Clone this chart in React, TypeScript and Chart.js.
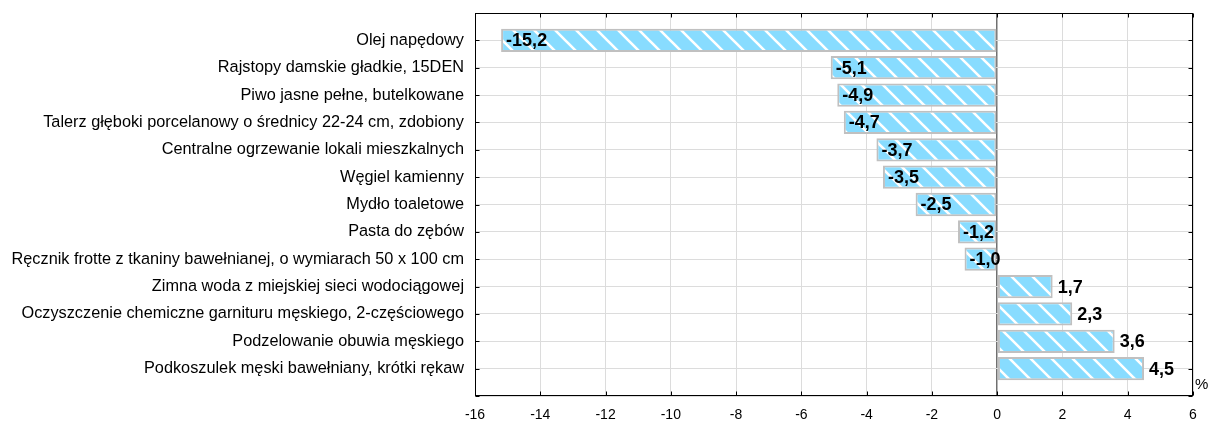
import { useEffect, useRef } from 'react';
import { Chart, registerables } from 'chart.js';

Chart.register(...registerables);

const categories = [
  'Olej napędowy',
  'Rajstopy damskie gładkie, 15DEN',
  'Piwo jasne pełne, butelkowane',
  'Talerz głęboki porcelanowy o średnicy 22-24 cm, zdobiony',
  'Centralne ogrzewanie lokali mieszkalnych',
  'Węgiel kamienny',
  'Mydło toaletowe',
  'Pasta do zębów',
  'Ręcznik frotte z tkaniny bawełnianej, o wymiarach 50 x 100 cm',
  'Zimna woda z miejskiej sieci wodociągowej',
  'Oczyszczenie chemiczne garnituru męskiego, 2-częściowego',
  'Podzelowanie obuwia męskiego',
  'Podkoszulek męski bawełniany, krótki rękaw',
];

const values = [-15.2, -5.1, -4.9, -4.7, -3.7, -3.5, -2.5, -1.2, -1.0, 1.7, 2.3, 3.6, 4.5];

const xMin = -16;
const xMax = 6;
const xStep = 2;
const unitLabel = '%';

const FONT = '"Liberation Sans", Arial, Helvetica, sans-serif';

function makePattern(): CanvasPattern | string {
  const s = 21;
  const c = document.createElement('canvas');
  c.width = s;
  c.height = s;
  const g = c.getContext('2d');
  if (!g) return '#88dcff';
  g.fillStyle = '#88dcff';
  g.fillRect(0, 0, s, s);
  g.strokeStyle = '#ffffff';
  g.lineWidth = 2.6;
  g.beginPath();
  for (const k of [-1, 0, 1]) {
    g.moveTo(k * s - 3, -3);
    g.lineTo(k * s + s + 3, s + 3);
  }
  g.stroke();
  const p = g.createPattern(c, 'repeat');
  return p || '#88dcff';
}

const fmt = (v: number) => v.toFixed(1).replace('.', ',');

export default function App() {
  const ref = useRef<HTMLCanvasElement | null>(null);

  useEffect(() => {
    document.body.style.margin = '0';
    const canvas = ref.current;
    if (!canvas) return;
    const pattern = makePattern();

    const labelPlugin = {
      id: 'valueLabels',
      afterDatasetsDraw(chart: any) {
        const { ctx, scales } = chart;
        const meta = chart.getDatasetMeta(0);
        ctx.save();
        ctx.font = `bold 18px ${FONT}`;
        ctx.fillStyle = '#000';
        ctx.textAlign = 'left';
        ctx.textBaseline = 'middle';
        meta.data.forEach((el: any, i: number) => {
          const v = values[i];
          const px = scales.x.getPixelForValue(v);
          ctx.fillText(fmt(v), px + 5, el.y + 1);
        });
        ctx.restore();
      },
    };

    const framePlugin = {
      id: 'frame',
      afterDraw(chart: any) {
        const { ctx, chartArea: a, scales } = chart;
        ctx.save();
        ctx.strokeStyle = '#000';
        ctx.lineWidth = 1;
        const l = Math.round(a.left) + 0.5;
        const t = Math.round(a.top) + 0.5;
        const r = Math.round(a.right) - 0.5;
        const b = Math.round(a.bottom) - 0.5;
        ctx.strokeRect(l, t, r - l, b - t);
        const L = 4;
        ctx.beginPath();
        scales.x.ticks.forEach((tk: any) => {
          const px = Math.round(scales.x.getPixelForValue(tk.value)) + 0.5;
          ctx.moveTo(px, t);
          ctx.lineTo(px, t + L);
          ctx.moveTo(px, b);
          ctx.lineTo(px, b - L);
        });
        scales.y.ticks.forEach((tk: any) => {
          const py = Math.round(scales.y.getPixelForValue(tk.value)) + 0.5;
          ctx.moveTo(l, py);
          ctx.lineTo(l + L, py);
          ctx.moveTo(r, py);
          ctx.lineTo(r - L, py);
        });
        ctx.stroke();
        ctx.font = `15px ${FONT}`;
        ctx.fillStyle = '#000';
        ctx.textAlign = 'left';
        ctx.textBaseline = 'middle';
        ctx.fillText(unitLabel, a.right + 2, a.bottom - 11);
        ctx.restore();
      },
    };

    const chart = new Chart(canvas, {
      type: 'bar',
      data: {
        datasets: [
          {
            data: values.map((v, i) => ({ x: v, y: i })),
            backgroundColor: pattern as any,
            borderColor: '#c0c0c0',
            borderWidth: 2,
            borderSkipped: false,
            categoryPercentage: 0.85,
            barPercentage: 1,
          },
        ],
      },
      options: {
        indexAxis: 'y',
        responsive: false,
        animation: false,
        events: [],
        layout: { padding: { top: 13, right: 16, left: 0, bottom: 0 } },
        plugins: {
          legend: { display: false },
          tooltip: { enabled: false },
        },
        scales: {
          x: {
            type: 'linear',
            position: 'bottom',
            min: xMin,
            max: xMax,
            ticks: {
              stepSize: xStep,
              color: '#000',
              font: { family: FONT, size: 14 },
              padding: 11,
              callback: (v: any) => String(v),
            },
            grid: {
              drawTicks: false,
              color: (c: any) => (c.tick && c.tick.value === 0 ? '#707070' : '#dcdcdc'),
              lineWidth: (c: any) => (c.tick && c.tick.value === 0 ? 1.5 : 1),
            },
            border: { display: false },
            afterFit: (scale: any) => {
              scale.height = 25;
              scale.paddingLeft = 0;
              scale.paddingRight = 0;
            },
          },
          y: {
            type: 'linear',
            reverse: true,
            offset: false,
            min: -1,
            max: categories.length,
            afterBuildTicks: (scale: any) => {
              const t = [];
              for (let i = -1; i <= categories.length; i++) t.push({ value: i });
              scale.ticks = t;
            },
            ticks: {
              stepSize: 1,
              autoSkip: false,
              color: '#000',
              font: { family: FONT, size: 16.3 },
              padding: 11,
              callback: (v: any) => categories[v as number] ?? '',
            },
            grid: {
              drawTicks: false,
              offset: false,
              color: '#dcdcdc',
            },
            border: { display: false },
            afterFit: (scale: any) => {
              scale.width = 475;
              scale.paddingTop = 0;
              scale.paddingBottom = 0;
            },
          },
        },
      },
      plugins: [labelPlugin, framePlugin],
    } as any);

    return () => chart.destroy();
  }, []);

  return (
    <div style={{ position: 'absolute', left: 0, top: 0, width: 1209, height: 421 }}>
      <canvas ref={ref} width={1209} height={421} style={{ width: 1209, height: 421, display: 'block' }} />
    </div>
  );
}
